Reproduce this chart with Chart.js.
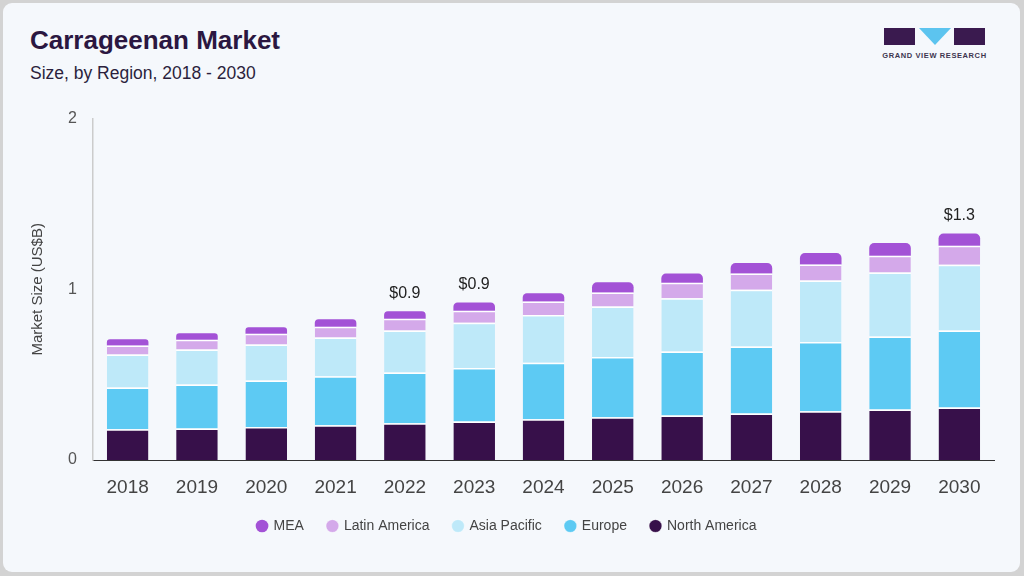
<!DOCTYPE html>
<html>
<head>
<meta charset="utf-8">
<script src="https://cdn.jsdelivr.net/npm/chart.js@4.4.1/dist/chart.umd.min.js"></script>
<style>
  html, body { margin: 0; padding: 0; }
  body { width: 1024px; height: 576px; background: #d3d3d3; font-family: "Liberation Sans", Arial, sans-serif; position: relative; overflow: hidden; }
  .card { position: absolute; left: 3px; top: 3px; width: 1017px; height: 569px; background: #f5f8fc; border-radius: 9px; }
  .title { position: absolute; left: 30px; top: 25px; font-size: 26px; font-weight: bold; color: #2b1741; }
  .subtitle { position: absolute; left: 30px; top: 63px; font-size: 17.5px; color: #2b1f3d; }
  .logo { position: absolute; left: 884px; top: 28px; width: 101px; height: 32px; }
  .logo .blk { position: absolute; top: 0; height: 17px; background: #3a1a4f; }
  .logo .tri { position: absolute; left: 35px; top: 0; width: 0; height: 0; border-left: 16px solid transparent; border-right: 16px solid transparent; border-top: 17px solid #5cc4ef; }
  .logo .txt { position: absolute; left: -2px; top: 23px; width: 105px; text-align: center; font-size: 7.5px; font-weight: bold; letter-spacing: 0.6px; color: #3d3550; white-space: nowrap; }
  #chart-wrap { position: absolute; left: 20px; top: 93px; width: 985px; height: 450px; }
</style>
</head>
<body>
<div class="card"></div>
<div class="title">Carrageenan Market</div>
<div class="subtitle">Size, by Region, 2018 - 2030</div>
<div class="logo">
  <div class="blk" style="left:0;width:31px"></div>
  <div class="tri"></div>
  <div class="blk" style="left:70px;width:31px"></div>
  <div class="txt">GRAND VIEW RESEARCH</div>
</div>
<div id="chart-wrap"><canvas id="chart"></canvas></div>
<script>
const years = ['2018', '2019', '2020', '2021', '2022', '2023', '2024', '2025', '2026', '2027', '2028', '2029', '2030'];
const northAmerica = [0.180, 0.185, 0.193, 0.203, 0.215, 0.226, 0.238, 0.251, 0.261, 0.273, 0.285, 0.296, 0.308];
const europe = [0.245, 0.257, 0.273, 0.287, 0.298, 0.313, 0.331, 0.353, 0.374, 0.392, 0.407, 0.427, 0.450];
const asiaPacific = [0.193, 0.205, 0.210, 0.228, 0.246, 0.265, 0.281, 0.295, 0.313, 0.333, 0.359, 0.376, 0.386];
const latinAmerica = [0.053, 0.058, 0.064, 0.062, 0.068, 0.070, 0.078, 0.082, 0.090, 0.094, 0.094, 0.098, 0.111];
const mea = [0.037, 0.037, 0.037, 0.045, 0.045, 0.049, 0.049, 0.060, 0.054, 0.062, 0.068, 0.074, 0.072];
const totalLabels = ['', '', '', '', '$0.9', '$0.9', '', '', '', '', '', '', '$1.3'];
const yTicks = [0, 1, 2];

const FONT = '"Liberation Sans", Arial, sans-serif';

const seriesColors = {
  northAmerica: '#37104a',
  europe: '#5dcaf3',
  asiaPacific: '#bee9f9',
  latinAmerica: '#d4a9ea',
  mea: '#a352d6',
};

function segment(label, data, color, isTop) {
  return {
    label,
    data,
    backgroundColor: color,
    borderColor: '#ffffff',
    borderWidth: isTop ? 0 : { top: 1.5, bottom: 0, left: 0, right: 0 },
    borderSkipped: false,
    borderRadius: isTop ? { topLeft: 5, topRight: 5 } : 0,
    barPercentage: 0.6,
    categoryPercentage: 1,
  };
}

const totalLabelPlugin = {
  id: 'totalLabels',
  afterDatasetsDraw(chart) {
    const { ctx } = chart;
    const lastMeta = chart.getDatasetMeta(chart.data.datasets.length - 1);
    ctx.save();
    ctx.font = `16px ${FONT}`;
    ctx.fillStyle = '#222222';
    ctx.textAlign = 'center';
    ctx.textBaseline = 'bottom';
    totalLabels.forEach((text, i) => {
      if (!text) return;
      const bar = lastMeta.data[i];
      ctx.fillText(text, bar.x, bar.y - 10);
    });
    ctx.restore();
  },
};

const ctx = document.getElementById('chart').getContext('2d');
new Chart(ctx, {
  type: 'bar',
  data: {
    labels: years,
    datasets: [
      segment('North America', northAmerica, seriesColors.northAmerica, false),
      segment('Europe', europe, seriesColors.europe, false),
      segment('Asia Pacific', asiaPacific, seriesColors.asiaPacific, false),
      segment('Latin America', latinAmerica, seriesColors.latinAmerica, false),
      segment('MEA', mea, seriesColors.mea, true),
    ],
  },
  options: {
    responsive: true,
    maintainAspectRatio: false,
    animation: false,
    layout: { padding: { top: 8, right: 11, bottom: 0, left: 0 } },
    plugins: {
      legend: {
        position: 'bottom',
        reverse: true,
        labels: {
          usePointStyle: true,
          pointStyle: 'circle',
          boxWidth: 9,
          boxHeight: 9,
          padding: 24,
          color: '#444444',
          font: { family: FONT, size: 14 },
        },
      },
      tooltip: { enabled: false },
    },
    scales: {
      x: {
        stacked: true,
        afterFit: (scale) => { scale.height = 35; },
        grid: { display: false, drawTicks: false },
        border: { display: true, color: '#333333', width: 1 },
        ticks: { color: '#444444', padding: 16, font: { family: FONT, size: 19 } },
      },
      y: {
        stacked: true,
        min: 0,
        max: 2,
        afterFit: (scale) => { scale.width = 73; },
        afterBuildTicks: (scale) => { scale.ticks = yTicks.map((v) => ({ value: v })); },
        grid: { display: false, drawTicks: false },
        border: { display: true, color: '#cccccc', width: 1.5 },
        ticks: { color: '#555555', padding: 16, font: { family: FONT, size: 16 } },
        title: {
          display: true,
          text: 'Market Size (US$B)',
          color: '#444444',
          padding: { top: 9, bottom: 0 },
          font: { family: FONT, size: 15 },
        },
      },
    },
  },
  plugins: [totalLabelPlugin],
});
</script>
</body>
</html>
